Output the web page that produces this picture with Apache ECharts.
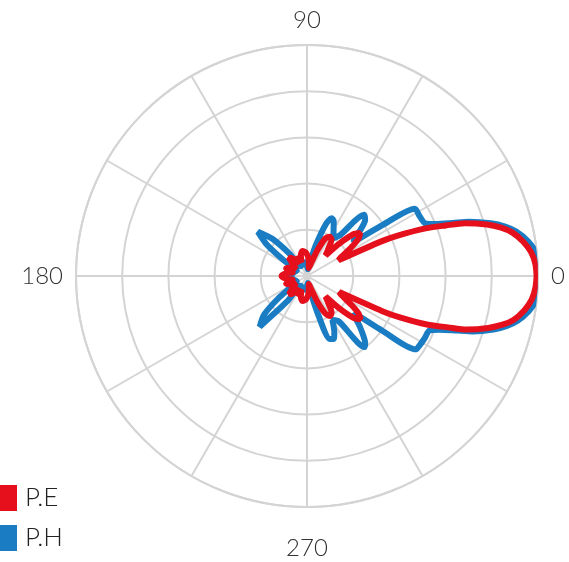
<!DOCTYPE html>
<html lang="en">
  <head>
    <meta charset="UTF-8" />
    <title>pattern</title>
    <script src="https://cdn.jsdelivr.net/npm/echarts@6/dist/echarts.min.js"></script>
    <style>
      html, body { margin: 0; padding: 0; background: #fff; }
    </style>
  </head>
  <body>
    <div id="main" style="width: 569px; height: 562px;"></div>
    <script type="text/javascript">
      var peAngles = [0, 3, 6, 9, 12, 14, 16, 18.5, 20, 22, 24, 25, 26.5, 29, 33, 36, 39, 42, 45, 48, 52, 56, 60, 64, 68, 72, 77, 84, 92, 100, 106, 112, 118, 124, 130, 135, 141, 147, 154, 160, 166, 172, 180];
      var peUpper = [4.97, 4.95, 4.88, 4.74, 4.54, 4.33, 4.05, 3.6, 3.2, 2.74, 2.15, 1.76, 0.76, 0.85, 1.15, 1.38, 1.48, 1.35, 1.0, 0.6, 0.75, 0.95, 0.98, 0.9, 0.6, 0.3, 0.18, 0.35, 0.5, 0.55, 0.48, 0.32, 0.48, 0.32, 0.5, 0.56, 0.38, 0.28, 0.42, 0.48, 0.32, 0.45, 0.55];
      var peLower = [4.97, 4.95, 4.89, 4.76, 4.57, 4.36, 4.08, 3.65, 3.25, 2.8, 2.2, 1.8, 0.78, 0.85, 1.15, 1.38, 1.49, 1.35, 1.0, 0.6, 0.75, 0.95, 1.0, 0.9, 0.6, 0.3, 0.18, 0.35, 0.5, 0.55, 0.48, 0.32, 0.48, 0.32, 0.5, 0.55, 0.38, 0.28, 0.42, 0.48, 0.32, 0.45, 0.55];

      var phAngles = [0, 3, 6, 9, 12, 14, 16, 18.5, 20, 22, 24, 28, 32, 34, 36, 38, 41, 44, 47, 49, 51, 55, 60, 64, 67, 70, 74, 78, 84, 95, 110, 122, 128, 133, 138, 142, 146, 152, 165, 180];
      var phUpper = [5.07, 5.05, 4.98, 4.84, 4.63, 4.42, 4.14, 3.7, 3.35, 3.0, 2.8, 2.76, 2.75, 2.0, 1.25, 1.3, 1.55, 1.75, 1.81, 1.6, 1.14, 1.0, 1.15, 1.32, 1.36, 1.2, 0.7, 0.3, 0.15, 0.3, 0.3, 0.25, 0.6, 1.1, 1.43, 1.1, 0.6, 0.25, 0.3, 0.35];
      var phLower = [5.07, 5.05, 4.99, 4.86, 4.66, 4.46, 4.2, 3.78, 3.45, 3.1, 2.9, 2.88, 2.86, 2.84, 2.0, 1.3, 1.4, 1.6, 1.8, 1.92, 1.98, 1.2, 1.1, 1.35, 1.48, 1.45, 0.85, 0.35, 0.15, 0.3, 0.3, 0.25, 0.7, 1.5, 1.25, 0.8, 0.4, 0.25, 0.3, 0.35];

      var angleLabels = [0, 90, 180, 270];

      // upper half 0 -> 180, then lower half 180 -> 360
      function loop(angles, upper, lower) {
        var pts = [];
        for (var i = 0; i < angles.length; i++) {
          pts.push([upper[i], angles[i]]);
        }
        for (var j = angles.length - 1; j >= 0; j--) {
          pts.push([lower[j], 360 - angles[j]]);
        }
        return pts;
      }

      var myChart = echarts.init(document.getElementById("main"));

      var gridColor = "#d4d4d4";
      var labelFont = "Lato";
      var option = {
        animation: false,
        legend: {
          orient: "vertical",
          left: -10,
          top: 480,
          itemWidth: 22,
          itemHeight: 26,
          itemGap: 14,
          icon: "rect",
          data: ["P.E", "P.H"],
          textStyle: {
            fontSize: 26,
            color: "#222",
            fontFamily: labelFont,
            fontWeight: 300,
            padding: [0, 0, 0, 3],
          },
        },
        polar: {
          center: [307, 276],
          radius: 231,
        },
        angleAxis: {
          type: "value",
          min: 0,
          max: 360,
          interval: 30,
          startAngle: 0,
          clockwise: false,
          axisLine: { lineStyle: { color: gridColor, width: 2 } },
          axisTick: { show: false },
          splitLine: { lineStyle: { color: gridColor, width: 2 } },
          axisLabel: {
            margin: 13,
            fontSize: 24,
            color: "#333",
            fontFamily: labelFont,
            fontWeight: 300,
            formatter: function (v) {
              if (v === 270) return "{low|270}";
              return angleLabels.indexOf(v) >= 0 ? String(v) : "";
            },
            rich: {
              low: {
                fontSize: 24,
                color: "#333",
                fontFamily: labelFont,
                fontWeight: 300,
                padding: [16, 0, 0, 0],
              },
            },
          },
        },
        radiusAxis: {
          type: "value",
          min: 0,
          max: 5,
          interval: 1,
          axisLine: { show: false },
          axisTick: { show: false },
          axisLabel: { show: false },
          splitLine: { lineStyle: { color: gridColor, width: 2 } },
        },
        series: [
          {
            name: "P.H",
            type: "line",
            coordinateSystem: "polar",
            showSymbol: false,
            smooth: 0.25,
            lineStyle: { color: "#1a7dc3", width: 6 },
            itemStyle: { color: "#1a7dc3" },
            data: loop(phAngles, phUpper, phLower),
          },
          {
            name: "P.E",
            type: "line",
            coordinateSystem: "polar",
            showSymbol: false,
            smooth: 0.25,
            lineStyle: { color: "#e5101c", width: 6 },
            itemStyle: { color: "#e5101c" },
            data: loop(peAngles, peUpper, peLower),
          },
        ],
      };

      myChart.setOption(option);
    </script>
  </body>
</html>
